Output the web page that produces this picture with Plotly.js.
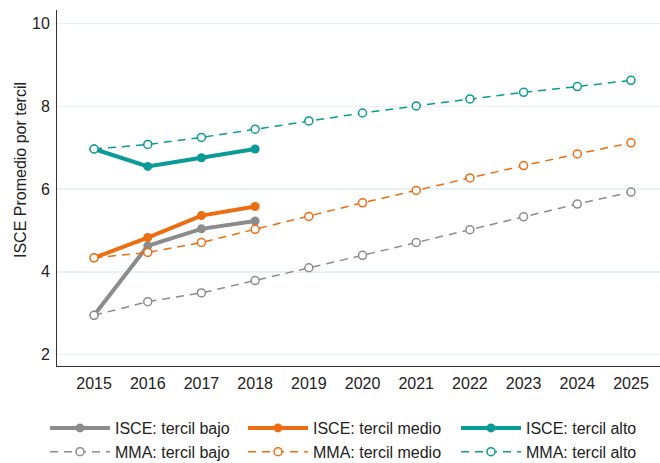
<!DOCTYPE html>
<html>
<head>
<meta charset="utf-8">
<script src="https://cdn.plot.ly/plotly-3.0.1.min.js"></script>
<style>
  html, body { margin: 0; padding: 0; background: #fff; }
  #chart { width: 660px; height: 463px; }
</style>
</head>
<body>
<div id="chart"></div>
<script>
// ISCE observed vs MMA projected, by tercil
const yearsObs = [2015, 2016, 2017, 2018];
const yearsProj = [2015, 2016, 2017, 2018, 2019, 2020, 2021, 2022, 2023, 2024, 2025];

const isceBajo = [2.95, 4.63, 5.04, 5.23];
const isceMedio = [4.34, 4.83, 5.36, 5.58];
const isceAlto = [6.97, 6.55, 6.76, 6.97];

const mmaBajo = [2.95, 3.28, 3.49, 3.79, 4.10, 4.40, 4.71, 5.02, 5.33, 5.64, 5.93];
const mmaMedio = [4.34, 4.47, 4.71, 5.03, 5.34, 5.67, 5.97, 6.27, 6.57, 6.85, 7.12];
const mmaAlto = [6.97, 7.08, 7.25, 7.45, 7.65, 7.84, 8.01, 8.18, 8.34, 8.48, 8.63];

const COLORS = { bajo: '#8c8c8c', medio: '#ec6d12', alto: '#0a9a97' };

// one legend per tercil column: bajo -> legend, medio -> legend2, alto -> legend3
const solid = (x, y, name, color, leg) => ({
  x, y, name, legend: leg, mode: 'lines+markers', type: 'scatter',
  line: { color, width: 4 },
  marker: { color, size: 9, symbol: 'circle' },
});
const dashed = (x, y, name, color, leg) => ({
  x, y, name, legend: leg, mode: 'lines+markers', type: 'scatter',
  line: { color, width: 1.5, dash: '8px,6px' },
  marker: { color: '#fff', size: 8, symbol: 'circle', line: { color, width: 1.5 } },
});

const traces = [
  solid(yearsObs, isceBajo, 'ISCE: tercil bajo', COLORS.bajo, 'legend'),
  solid(yearsObs, isceMedio, 'ISCE: tercil medio', COLORS.medio, 'legend2'),
  solid(yearsObs, isceAlto, 'ISCE: tercil alto', COLORS.alto, 'legend3'),
  dashed(yearsProj, mmaBajo, 'MMA: tercil bajo', COLORS.bajo, 'legend'),
  dashed(yearsProj, mmaMedio, 'MMA: tercil medio', COLORS.medio, 'legend2'),
  dashed(yearsProj, mmaAlto, 'MMA: tercil alto', COLORS.alto, 'legend3'),
];

const legendAt = (px) => ({
  xref: 'container', yref: 'container',
  x: px / 660, xanchor: 'left', y: (463 - 411) / 463, yanchor: 'top',
  orientation: 'v', itemwidth: 60, tracegroupgap: 0,
  bgcolor: 'rgba(0,0,0,0)', borderwidth: 0,
  font: { size: 16 },
});

const layout = {
  width: 660, height: 463,
  paper_bgcolor: '#fff', plot_bgcolor: '#fff',
  font: { family: 'Liberation Sans, Arial, sans-serif', size: 16, color: '#222' },
  margin: { l: 57, r: 0, t: 10, b: 97, autoexpand: false },
  showlegend: true,
  xaxis: {
    range: [2014.31, 2025.54],
    tickvals: yearsProj,
    showgrid: false, zeroline: false,
    showline: true, linecolor: '#333', linewidth: 1,
    ticks: '', ticklabelstandoff: 3,
  },
  yaxis: {
    range: [1.725, 10.33],
    tickvals: [2, 4, 6, 8, 10],
    showgrid: true, gridcolor: '#e8f2f4', gridwidth: 1.5,
    zeroline: false,
    showline: true, linecolor: '#333', linewidth: 1,
    ticks: '', ticklabelstandoff: 3,
  },
  annotations: [{
    text: 'ISCE Promedio por tercil', textangle: -90,
    xref: 'paper', yref: 'paper', x: -37 / 603, y: (366 - 170) / 356,
    xanchor: 'center', yanchor: 'middle', showarrow: false,
    font: { size: 16, color: '#222' },
  }],
  legend: legendAt(45),
  legend2: legendAt(243),
  legend3: legendAt(456),
};

Plotly.newPlot('chart', traces, layout, { displayModeBar: false, staticPlot: true });
</script>
</body>
</html>
